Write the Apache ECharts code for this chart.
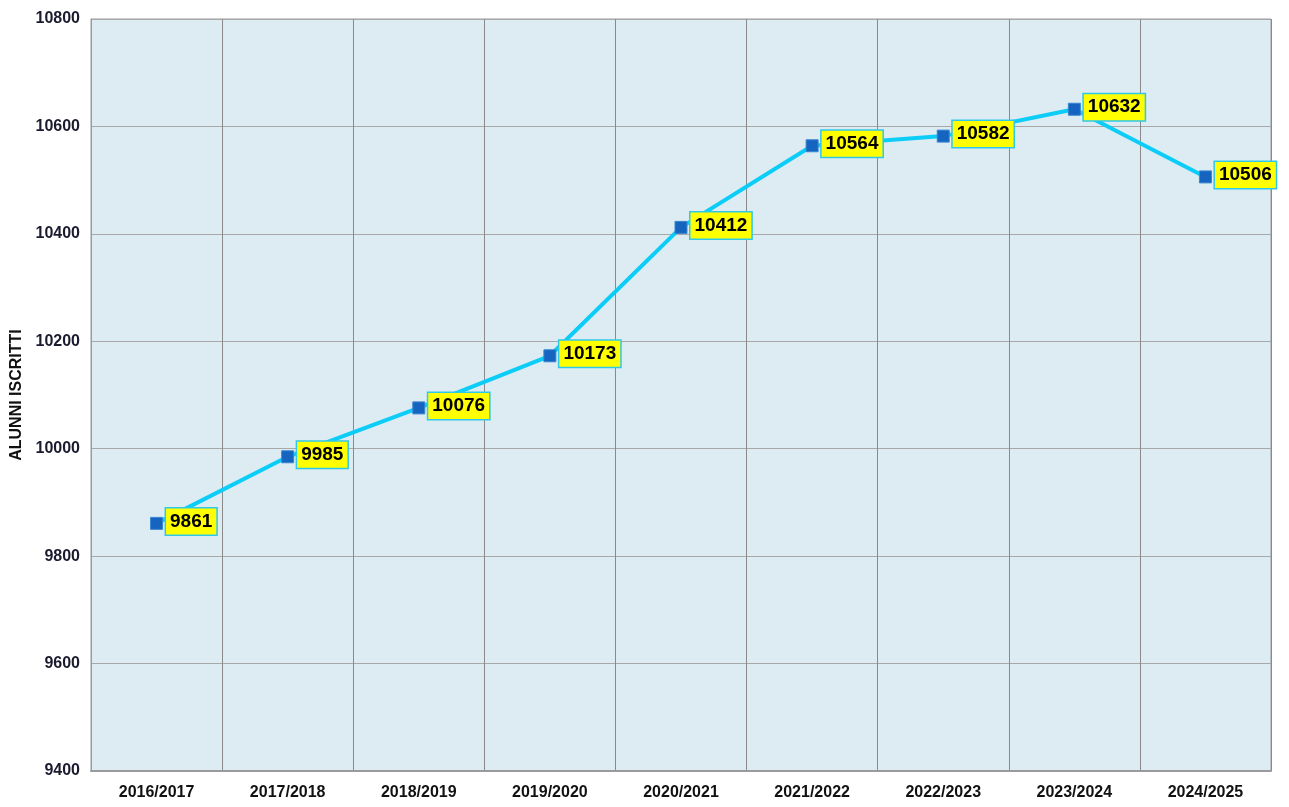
<!DOCTYPE html>
<html>
<head>
<meta charset="utf-8">
<script src="https://cdn.jsdelivr.net/npm/echarts@6/dist/echarts.min.js"></script>
<style>
  html, body { margin: 0; padding: 0; background: #fff; }
  #box01 { width: 1289px; height: 807px; }
</style>
</head>
<body>
<div id="box01"></div>
<script>
var anni = ['2016/2017', '2017/2018', '2018/2019', '2019/2020', '2020/2021', '2021/2022', '2022/2023', '2023/2024', '2024/2025'];
var iscritti = [9861, 9985, 10076, 10173, 10412, 10564, 10582, 10632, 10506];
var yMin = 9400, yMax = 10800, yStep = 200;

var myChart = echarts.init(document.getElementById('box01'));

var option = {
    backgroundColor: '#ffffff',
    animation: false,
    grid: {
        left: 91,
        right: 18,
        top: 19,
        bottom: 36,
        outerBoundsMode: 'none',
        containLabel: false,
        show: true,
        backgroundColor: '#dcecf2',
        borderColor: '#9a9a9a',
        borderWidth: 1
    },
    xAxis: {
        type: 'category',
        data: anni,
        boundaryGap: true,
        axisLine: { lineStyle: { color: '#9a9a9a', width: 2 } },
        axisTick: { show: false },
        axisLabel: {
            color: '#111',
            fontFamily: 'Arial, "Liberation Sans", sans-serif',
            fontWeight: 'bold',
            fontSize: 16,
            margin: 14
        },
        splitLine: { show: true, lineStyle: { color: '#8a8a8a', width: 1 } }
    },
    yAxis: {
        type: 'value',
        min: yMin,
        max: yMax,
        interval: yStep,
        name: 'ALUNNI ISCRITTI',
        nameLocation: 'middle',
        nameGap: 63,
        nameRotate: 90,
        nameTextStyle: {
            color: '#111',
            fontFamily: 'Arial, "Liberation Sans", sans-serif',
            fontWeight: 'bold',
            fontSize: 16
        },
        axisLine: { show: true, lineStyle: { color: '#9a9a9a', width: 1 } },
        axisTick: { show: false },
        axisLabel: {
            color: '#1b1b30',
            fontFamily: 'Arial, "Liberation Sans", sans-serif',
            fontWeight: 'bold',
            fontSize: 16,
            margin: 11,
            formatter: function (v) { return String(v); }
        },
        splitLine: { show: true, lineStyle: { color: '#a8a8a8', width: 1 } }
    },
    series: [
        {
            name: 'iscritti',
            type: 'line',
            data: iscritti,
            symbol: 'rect',
            symbolSize: 12,
            lineStyle: { color: '#0cccf8', width: 4 },
            itemStyle: { color: '#1565c0', borderColor: '#3a86d2', borderWidth: 1 },
            label: {
                show: true,
                position: 'right',
                distance: 3,
                offset: [0, -2],
                color: '#000',
                fontFamily: 'Arial, "Liberation Sans", sans-serif',
                fontWeight: 'bold',
                fontSize: 19,
                backgroundColor: '#ffff00',
                borderColor: '#2ec8ea',
                borderWidth: 1.5,
                padding: [4, 4, 3, 4]
            }
        }
    ]
};

myChart.setOption(option);
</script>
</body>
</html>
